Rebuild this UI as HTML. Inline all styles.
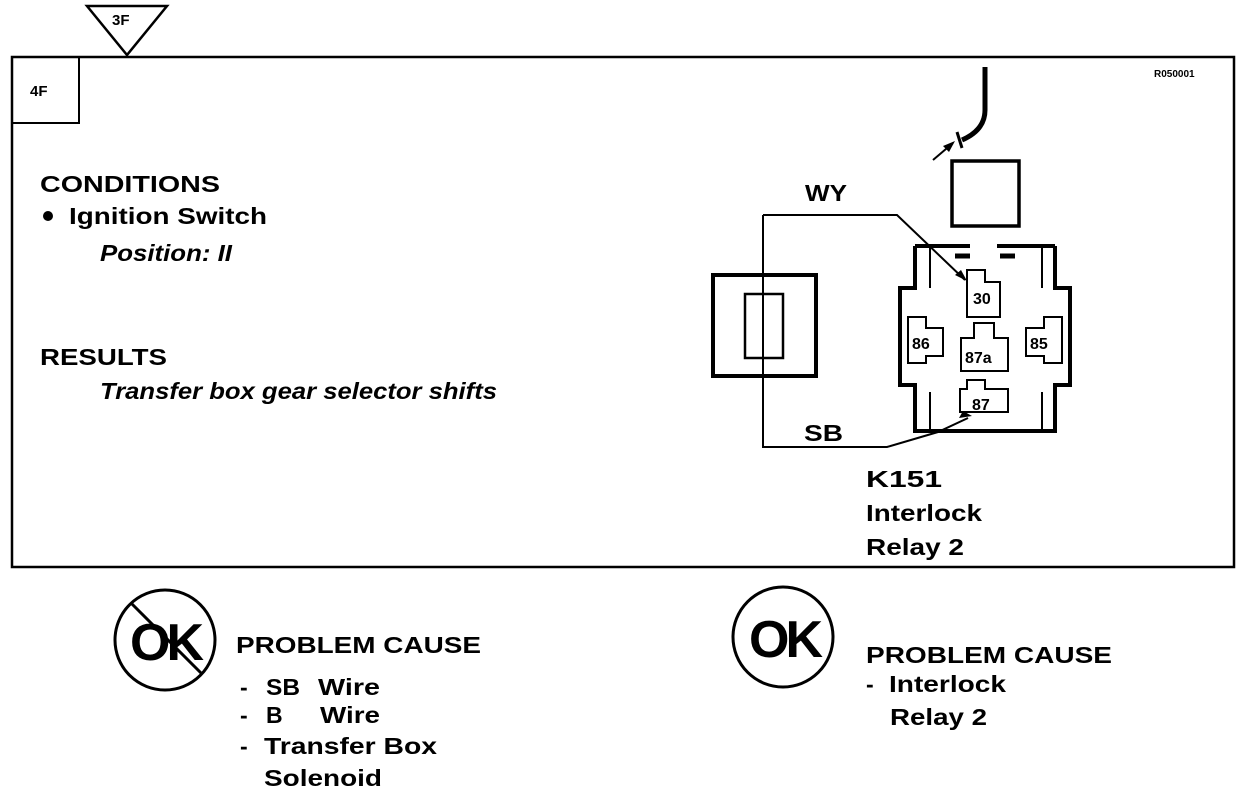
<!DOCTYPE html>
<html><head><style>body{margin:0;background:#fff}svg{display:block}text{font-family:"Liberation Sans",sans-serif;font-weight:bold;fill:#000}</style></head><body>
<svg width="1248" height="794" viewBox="0 0 1248 794">
<rect x="12" y="57" width="1222" height="510" fill="none" stroke="#000" stroke-width="2.5"/>
<path d="M12 57 H79 V123 H12" fill="none" stroke="#000" stroke-width="2"/>
<text x="30" y="96" font-size="15">4F</text>
<polygon points="87,6 167,6 127,55" fill="#fff" stroke="#000" stroke-width="2.5"/>
<text x="112" y="25" font-size="15">3F</text>
<text x="1154" y="77" font-size="10" font-weight="normal">R050001</text>
<g font-size="23">
<text x="40" y="192" textLength="180" lengthAdjust="spacingAndGlyphs">CONDITIONS</text>
<text x="69" y="224" textLength="198" lengthAdjust="spacingAndGlyphs">Ignition Switch</text>
<text x="100" y="261" font-style="italic" textLength="132" lengthAdjust="spacingAndGlyphs">Position: II</text>
<text x="40" y="365" textLength="127" lengthAdjust="spacingAndGlyphs">RESULTS</text>
<text x="100" y="399" font-style="italic" textLength="397" lengthAdjust="spacingAndGlyphs">Transfer box gear selector shifts</text>
</g>
<circle cx="48" cy="216" r="5"/>
<g fill="none" stroke="#000">
<path d="M985 67 V110 Q985 130 962 140" stroke-width="5"/>
<path d="M957 132 L962 148" stroke-width="3"/>
<path d="M933 160 L953 143" stroke-width="2"/>
<rect x="952" y="161" width="67" height="65" stroke-width="3.5"/>
<path d="M763 215 H897 L965 280" stroke-width="2"/>
<path d="M763 215 V447 H887 L938 432 L968 418" stroke-width="2"/>
<rect x="713" y="275" width="103" height="101" stroke-width="4"/>
<rect x="745" y="294" width="38" height="64" stroke-width="2.5"/>
<path d="M915 246 H970 M997 246 H1055 M915 246 V288 H900 V385 H915 V431 H1055 V385 H1070 V288 H1055 V246" stroke-width="4"/>
<path d="M930 248 V288 M930 392 V429 M1042 248 V288 M1042 392 V429" stroke-width="2"/>
<path d="M955 256 H970 M1000 256 H1015" stroke-width="5"/>
<path d="M967 270 H985 V282 H1000 V317 H967 Z" stroke-width="2"/>
<path d="M908 317 H926 V328 H943 V356 H926 V363 H908 Z" stroke-width="2"/>
<path d="M974 323 H994 V338 H1008 V371 H961 V338 H974 Z" stroke-width="2"/>
<path d="M1062 317 H1044 V328 H1026 V356 H1044 V363 H1062 Z" stroke-width="2"/>
<path d="M967 380 H985 V389 H1008 V412 H960 V389 H967 Z" stroke-width="2"/>
</g>
<polygon points="967,281 955,275 961,270" fill="#000"/>
<polygon points="972,416 959,418 963,411" fill="#000"/>
<polygon points="955,141 943,146 949,152" fill="#000"/>
<g font-size="16" font-weight="normal"><text x="973" y="304">30</text><text x="912" y="349">86</text><text x="965" y="363">87a</text><text x="1030" y="349">85</text><text x="972" y="410">87</text></g>
<g font-size="23">
<text x="805" y="201" textLength="42" lengthAdjust="spacingAndGlyphs">WY</text>
<text x="804" y="441" textLength="39" lengthAdjust="spacingAndGlyphs">SB</text>
<text x="866" y="487" textLength="76" lengthAdjust="spacingAndGlyphs">K151</text>
<text x="866" y="521" textLength="116" lengthAdjust="spacingAndGlyphs">Interlock</text>
<text x="866" y="555" textLength="98" lengthAdjust="spacingAndGlyphs">Relay 2</text>
<text x="236" y="653" textLength="245" lengthAdjust="spacingAndGlyphs">PROBLEM CAUSE</text>
<text x="240" y="695">-</text><text x="266" y="695" textLength="34" lengthAdjust="spacingAndGlyphs">SB</text><text x="318" y="695" textLength="62" lengthAdjust="spacingAndGlyphs">Wire</text>
<text x="240" y="723">-</text><text x="266" y="723">B</text><text x="320" y="723" textLength="60" lengthAdjust="spacingAndGlyphs">Wire</text>
<text x="240" y="754">-</text><text x="264" y="754" textLength="173" lengthAdjust="spacingAndGlyphs">Transfer Box</text>
<text x="264" y="786" textLength="118" lengthAdjust="spacingAndGlyphs">Solenoid</text>
<text x="866" y="663" textLength="246" lengthAdjust="spacingAndGlyphs">PROBLEM CAUSE</text>
<text x="866" y="692">-</text><text x="889" y="692" textLength="117" lengthAdjust="spacingAndGlyphs">Interlock</text>
<text x="890" y="725" textLength="97" lengthAdjust="spacingAndGlyphs">Relay 2</text>
</g>
<circle cx="165" cy="640" r="50" fill="none" stroke="#000" stroke-width="3"/>
<line x1="131" y1="603" x2="201" y2="673" stroke="#000" stroke-width="3"/>
<text x="130" y="660" font-size="52" letter-spacing="-4">OK</text>
<circle cx="783" cy="637" r="50" fill="none" stroke="#000" stroke-width="3"/>
<text x="749" y="657" font-size="52" letter-spacing="-4">OK</text>
</svg></body></html>
